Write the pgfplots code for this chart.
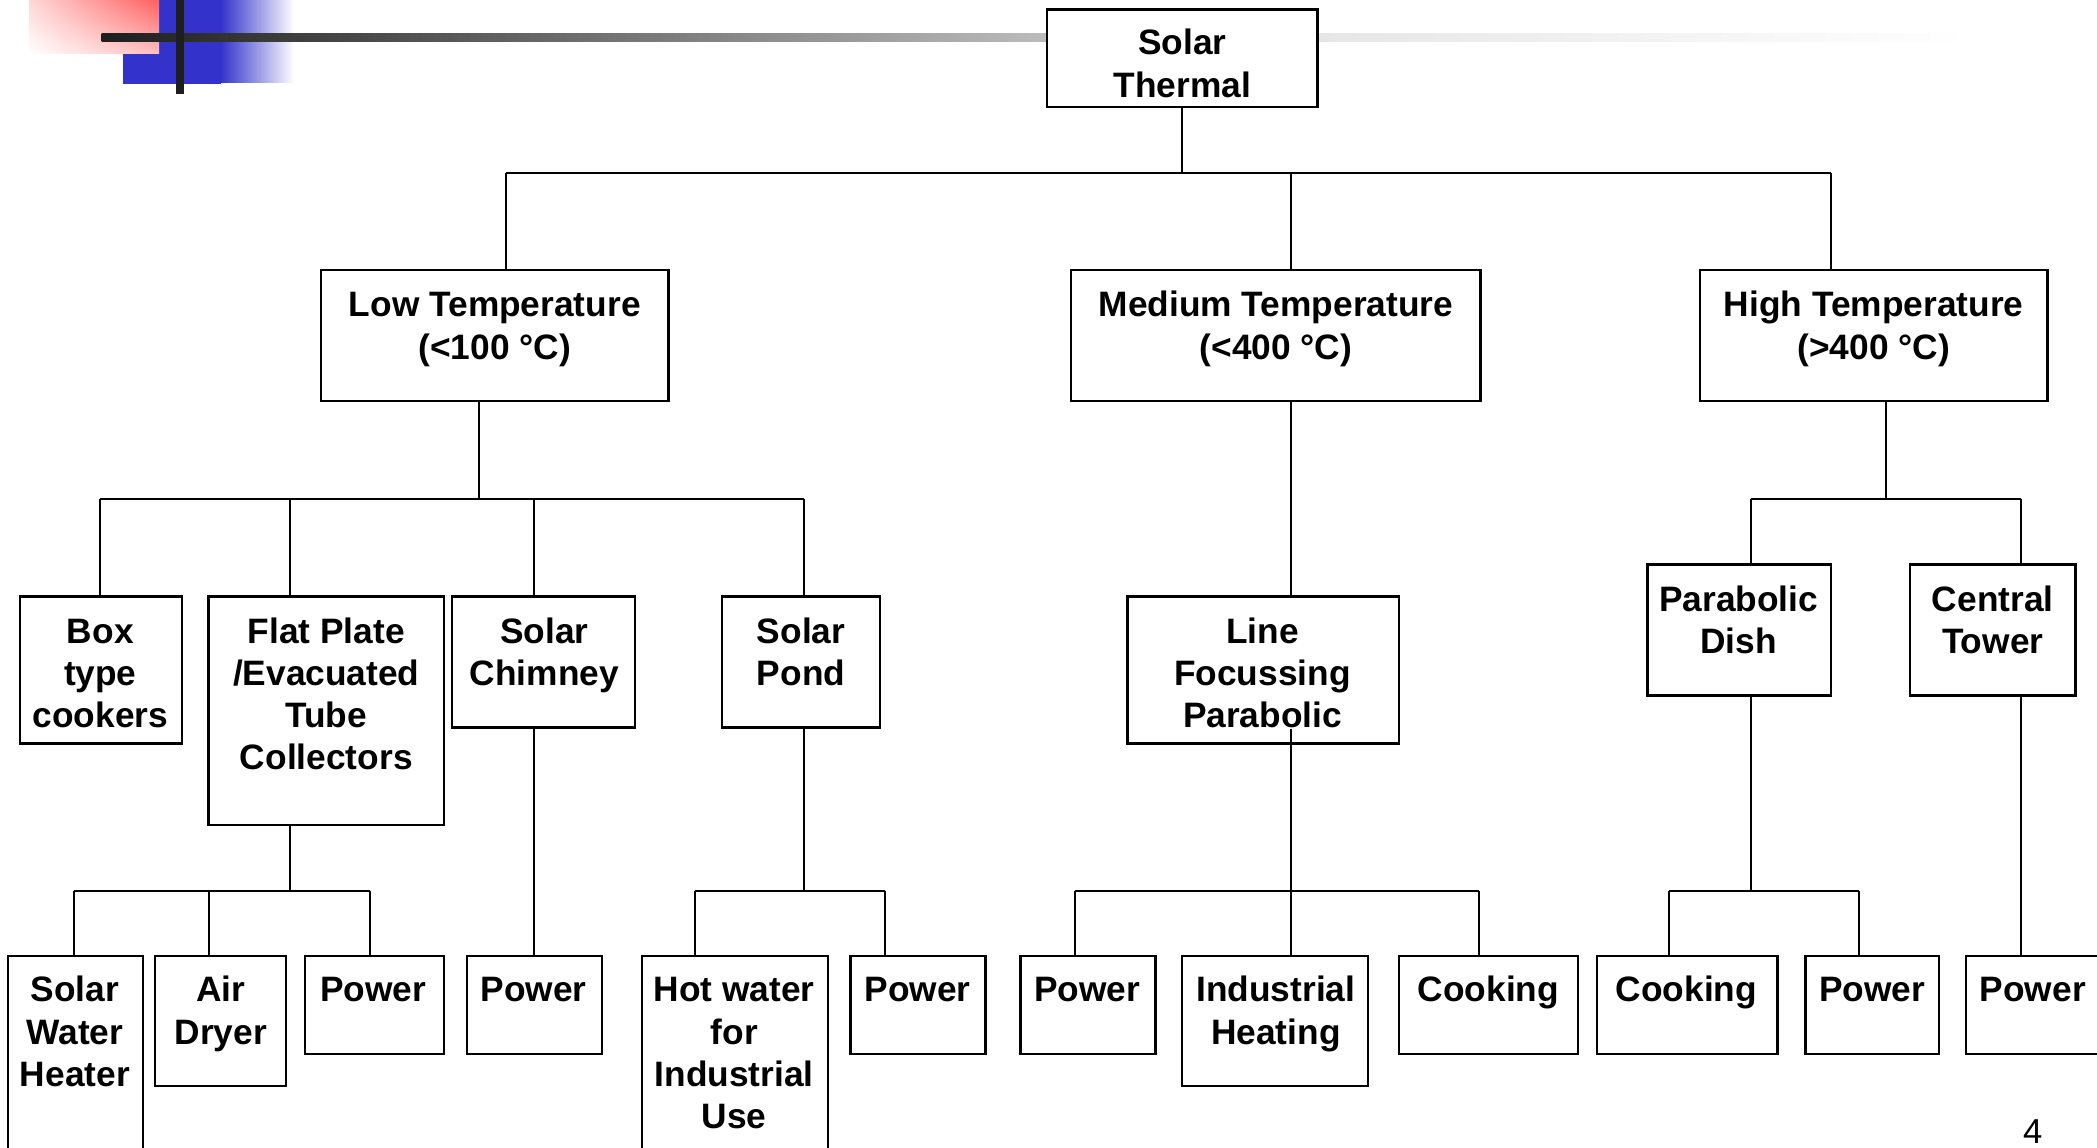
\documentclass[border=0pt]{standalone}
\usepackage{pgfplots}
\pgfplotsset{compat=1.18}
\usetikzlibrary{shadings}
\usepackage{fontspec}
\setmainfont{Liberation Sans}
\definecolor{bblue}{RGB}{51,51,204}
\definecolor{dgray}{RGB}{30,30,30}
\definecolor{rUL}{RGB}{255,215,215}
\definecolor{rUR}{RGB}{255,96,96}
\definecolor{rLR}{RGB}{255,190,190}
\definecolor{gMid}{RGB}{188,188,188}
\definecolor{gLight}{RGB}{230,230,230}
\newcommand{\bx}[4]{\addplot[draw=black,fill=white,line width=0.9pt] coordinates {(#1,#2) (#3,#2) (#3,#4) (#1,#4)} -- cycle;}
\newcommand{\cn}[4]{\addplot[black,line width=0.75pt] coordinates {(#1,#2) (#3,#4)};}
\newcommand{\tl}[3]{\node[txt] at (axis cs:#1,{#2+9}) {#3};}
\begin{document}
\begin{tikzpicture}[txt/.style={anchor=base,inner sep=0pt,font=\bfseries\fontsize{13.25}{15.5}\selectfont}]
\begin{axis}[width=784bp,height=429bp,scale only axis,
  xmin=0,xmax=1568,ymin=0,ymax=858,y dir=reverse,
  axis lines=none,ticks=none,no markers,clip=true]
% decoration
\fill[bblue] (axis cs:92,0) rectangle (axis cs:165,63);
\shade[left color=bblue,right color=white] (axis cs:165,0) rectangle (axis cs:220,62);
\shade[upper left=rUL,upper right=rUR,lower left=white,lower right=rLR] (axis cs:21.7,0) rectangle (axis cs:118.9,40);
\shade[left color=dgray,right color=gMid] (axis cs:76,24.7) rectangle (axis cs:783,30.7);
\shade[left color=gLight,right color=white] (axis cs:985,24.7) rectangle (axis cs:1472,30.7);
\fill[dgray] (axis cs:131.6,0) rectangle (axis cs:137.5,70);
% boxes
\bx{783}{7}{985}{80}
\bx{240}{202}{500}{300}
\bx{801}{202}{1107}{300}
\bx{1271}{202}{1531}{300}
\bx{15}{446}{136}{556}
\bx{156}{446}{332}{617}
\bx{338}{446}{475}{544}
\bx{540}{446}{658}{544}
\bx{843}{446}{1046}{556}
\bx{1232}{422}{1369}{520}
\bx{1428}{422}{1552}{520}
\bx{6}{715}{107}{870}
\bx{116}{715}{214}{812}
\bx{228}{715}{332}{788}
\bx{349}{715}{450}{788}
\bx{480}{715}{619}{870}
\bx{636}{715}{737}{788}
\bx{763}{715}{864}{788}
\bx{884}{715}{1023}{812}
\bx{1046}{715}{1180}{788}
\bx{1194}{715}{1329}{788}
\bx{1350}{715}{1450}{788}
\bx{1470}{715}{1580}{788}
% connectors
\cn{884}{80}{884}{129}
\cn{378}{129}{1369}{129}
\cn{378}{129}{378}{202}
\cn{965}{129}{965}{202}
\cn{1369}{129}{1369}{202}
\cn{358}{300}{358}{373}
\cn{75}{373}{601}{373}
\cn{75}{373}{75}{446}
\cn{217}{373}{217}{446}
\cn{399}{373}{399}{446}
\cn{601}{373}{601}{446}
\cn{965}{300}{965}{446}
\cn{965}{545}{965}{715}
\cn{804}{666}{1106}{666}
\cn{804}{666}{804}{715}
\cn{1106}{666}{1106}{715}
\cn{1410}{300}{1410}{373}
\cn{1309}{373}{1511}{373}
\cn{1309}{373}{1309}{422}
\cn{1511}{373}{1511}{422}
\cn{217}{617}{217}{666}
\cn{55}{666}{277}{666}
\cn{55}{666}{55}{715}
\cn{156}{666}{156}{715}
\cn{277}{666}{277}{715}
\cn{399}{544}{399}{715}
\cn{601}{544}{601}{666}
\cn{520}{666}{662}{666}
\cn{520}{666}{520}{715}
\cn{662}{666}{662}{715}
\cn{1309}{520}{1309}{666}
\cn{1248}{666}{1390}{666}
\cn{1248}{666}{1248}{715}
\cn{1390}{666}{1390}{715}
\cn{1511}{520}{1511}{715}
% texts
\tl{884}{32}{Solar}\tl{884}{64}{Thermal}
\tl{370}{228}{Low Temperature}\tl{370}{260}{(<100 °C)}
\tl{954}{228}{Medium Temperature}\tl{954}{260}{(<400 °C)}
\tl{1401}{228}{High Temperature}\tl{1401}{260}{(>400 °C)}
\tl{75}{472}{Box}\tl{75}{503.5}{type}\tl{75}{535}{cookers}
\tl{244}{472}{Flat Plate}\tl{244}{503.5}{/Evacuated}\tl{244}{535}{Tube}\tl{244}{566.5}{Collectors}
\tl{407}{472}{Solar}\tl{407}{503.5}{Chimney}
\tl{599}{472}{Solar}\tl{599}{503.5}{Pond}
\tl{944}{472}{Line}\tl{944}{503.5}{Focussing}\tl{944}{535}{Parabolic}
\tl{1300}{448}{Parabolic}\tl{1300}{480}{Dish}
\tl{1490}{448}{Central}\tl{1490}{480}{Tower}
\tl{56}{740}{Solar}\tl{56}{772}{Water}\tl{56}{803.5}{Heater}
\tl{165}{740}{Air}\tl{165}{772}{Dryer}
\tl{279}{740}{Power}
\tl{399}{740}{Power}
\tl{549}{740}{Hot water}\tl{549}{772}{for}\tl{549}{803.5}{Industrial}\tl{549}{835}{Use}
\tl{686}{740}{Power}
\tl{813}{740}{Power}
\tl{954}{740}{Industrial}\tl{954}{772}{Heating}
\tl{1113}{740}{Cooking}
\tl{1261}{740}{Cooking}
\tl{1400}{740}{Power}
\tl{1520}{740}{Power}
\node[anchor=base,inner sep=0pt,font=\fontsize{13}{15.5}\selectfont] at (axis cs:1520,855) {4};
\end{axis}
\path (current axis.south west) rectangle (current axis.north east);
\end{tikzpicture}
\end{document}
